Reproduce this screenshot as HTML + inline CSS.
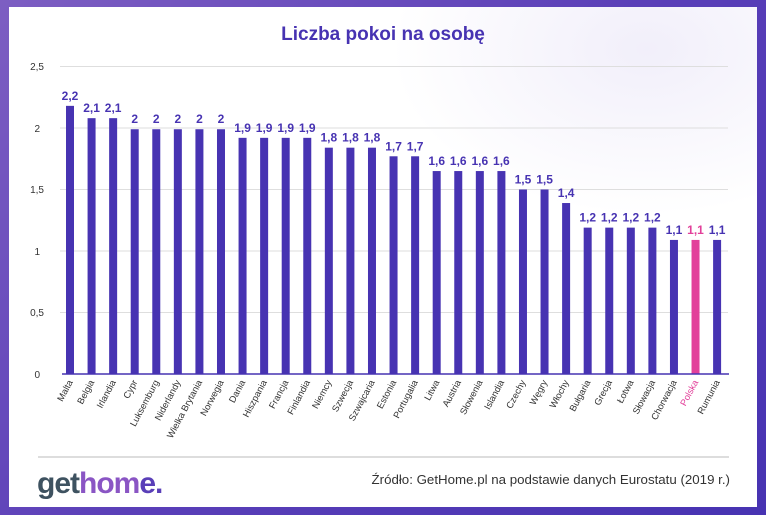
<!DOCTYPE html>
<html><head><meta charset="utf-8"><style>
html,body{margin:0;padding:0}
body{width:766px;height:515px;background:linear-gradient(135deg,#7d5ec2 0%,#5a3fb8 50%,#4733b2 100%);position:relative;overflow:hidden;font-family:"Liberation Sans",sans-serif}
#card{position:absolute;left:9px;top:7px;width:748px;height:500px;background:#fff}
#deco{position:absolute;left:380px;top:0;width:368px;height:210px;background:radial-gradient(ellipse at 70% 20%,rgba(200,190,235,0.25),rgba(255,255,255,0) 70%)}
svg{position:absolute;left:0;top:0}
</style></head><body>
<div id="card"><div id="deco"></div></div>
<svg width="766" height="515" xmlns="http://www.w3.org/2000/svg" font-family="Liberation Sans, sans-serif">
<text x="383" y="40" text-anchor="middle" font-size="19" font-weight="bold" fill="#4733b2">Liczba pokoi na osobę</text>
<g stroke="#dedede" stroke-width="1">
<line x1="60" y1="66.5" x2="728" y2="66.5"/><line x1="60" y1="128" x2="728" y2="128"/><line x1="60" y1="189.5" x2="728" y2="189.5"/><line x1="60" y1="251" x2="728" y2="251"/><line x1="60" y1="312.5" x2="728" y2="312.5"/>
</g>
<g font-size="10" fill="#333" text-anchor="end">
<text x="44" y="70">2,5</text><text x="40" y="132">2</text><text x="44" y="193">1,5</text><text x="40" y="255">1</text><text x="44" y="316">0,5</text><text x="40" y="378">0</text>
</g>
<g id="bars"></g>
<line x1="62" y1="374" x2="729" y2="374" stroke="#4733b2" stroke-width="1.5"/>
<line x1="38" y1="457" x2="729" y2="457" stroke="#bbb" stroke-width="1"/>
<text x="37" y="493" font-size="30" font-weight="bold" letter-spacing="-1"><tspan fill="#3e5260">get</tspan><tspan fill="#8a55c4">hom</tspan><tspan fill="#5a3fb8">e.</tspan></text>
<text x="730" y="484" text-anchor="end" font-size="13.3" fill="#333">Źródło: GetHome.pl na podstawie danych Eurostatu (2019 r.)</text>
</svg>
<script>
var d=[["Malta",2.18,"2,2"],["Belgia",2.08,"2,1"],["Irlandia",2.08,"2,1"],["Cypr",1.99,"2"],["Luksemburg",1.99,"2"],["Niderlandy",1.99,"2"],["Wielka Brytania",1.99,"2"],["Norwegia",1.99,"2"],["Dania",1.92,"1,9"],["Hiszpania",1.92,"1,9"],["Francja",1.92,"1,9"],["Finlandia",1.92,"1,9"],["Niemcy",1.84,"1,8"],["Szwecja",1.84,"1,8"],["Szwajcaria",1.84,"1,8"],["Estonia",1.77,"1,7"],["Portugalia",1.77,"1,7"],["Litwa",1.65,"1,6"],["Austria",1.65,"1,6"],["Słowenia",1.65,"1,6"],["Islandia",1.65,"1,6"],["Czechy",1.5,"1,5"],["Węgry",1.5,"1,5"],["Włochy",1.39,"1,4"],["Bułgaria",1.19,"1,2"],["Grecja",1.19,"1,2"],["Łotwa",1.19,"1,2"],["Słowacja",1.19,"1,2"],["Chorwacja",1.09,"1,1"],["Polska",1.09,"1,1"],["Rumunia",1.09,"1,1"]];
var g=document.getElementById("bars"),s="";
d.forEach(function(e,i){var cx=70+i*21.57,h=e[1]*123,y=374-h,c=e[0]=="Polska"?"#e2409a":"#4733b2",lc=e[0]=="Polska"?"#e2409a":"#333";
s+='<rect x="'+(cx-4)+'" y="'+y+'" width="8" height="'+h+'" fill="'+c+'"/>';
s+='<text x="'+cx+'" y="'+(y-6)+'" text-anchor="middle" font-size="12" font-weight="bold" fill="'+c+'">'+e[2]+'</text>';
s+='<text transform="translate('+(cx+3)+',382) rotate(-62)" text-anchor="end" font-size="9.3" fill="'+lc+'">'+e[0]+'</text>';});
g.innerHTML=s;
</script>
</body></html>
